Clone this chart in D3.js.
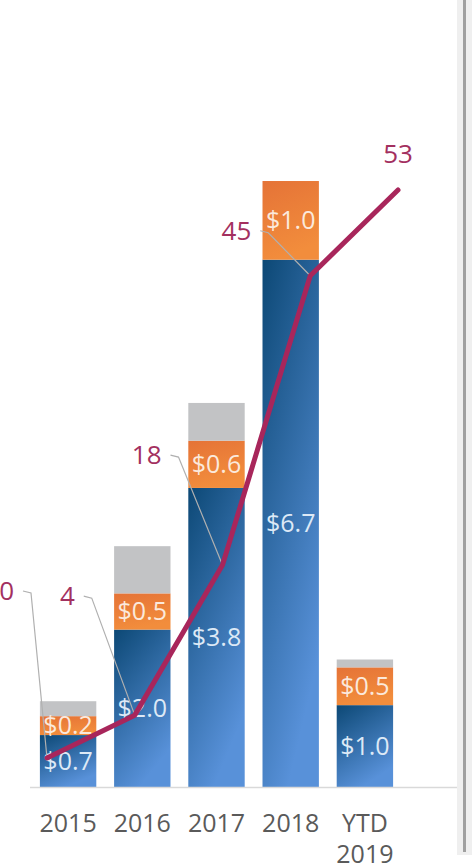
<!DOCTYPE html>
<html>
<head>
<meta charset="utf-8">
<script src="https://cdn.jsdelivr.net/npm/d3@7"></script>
<style>
  html, body { margin: 0; padding: 0; background: #fff; overflow: hidden; }
  text { font-family: "Open Sans", "Noto Sans", sans-serif; }
</style>
</head>
<body>
<div id="wrapper"></div>
<script>
// data
const categories = ["2015", "2016", "2017", "2018", "YTD 2019"];
const blueValues = [0.66, 2.0, 3.8, 6.7, 1.04];
const orangeValues = [0.24, 0.46, 0.6, 1.0, 0.48];
const greyValues = [0.19, 0.6, 0.48, 0, 0.1];
const lineValues = [0, 4, 18, 45, 53];

// where each line label sits relative to its point (layout only)
const labelOffsets = [
  { dx: -33, dy: -167, leader: true },
  { dx: -60, dy: -119, leader: true },
  { dx: -61, dy: -110, leader: true },
  { dx: -59, dy: -45, leader: true },
  { dx: 0, dy: -36, leader: false },
];

function drawChart() {
  const dimensions = { width: 472, height: 868, baseline: 787 };

  const svg = d3.select("#wrapper")
    .append("svg")
    .attr("width", dimensions.width)
    .attr("height", dimensions.height);

  const defs = svg.append("defs");
  const blueGrad = defs.append("linearGradient")
    .attr("id", "blue-grad")
    .attr("x1", 0).attr("y1", 0).attr("x2", 0.45).attr("y2", 1);
  blueGrad.append("stop").attr("offset", "0%").attr("stop-color", "#0c4875");
  blueGrad.append("stop").attr("offset", "100%").attr("stop-color", "#5891d9");

  const orangeGrad = defs.append("linearGradient")
    .attr("id", "orange-grad")
    .attr("x1", 0).attr("y1", 0).attr("x2", 0.3).attr("y2", 1);
  orangeGrad.append("stop").attr("offset", "0%").attr("stop-color", "#e57337");
  orangeGrad.append("stop").attr("offset", "100%").attr("stop-color", "#f28d3c");

  // scales
  const xScale = d3.scaleBand()
    .domain(categories)
    .range([31, 402])
    .paddingInner(0.24)
    .paddingOuter(0.12);

  const yScale = d3.scaleLinear()
    .domain([0, 10])
    .range([dimensions.baseline, 0]);

  const xLine = d3.scalePoint()
    .domain(categories)
    .range([47, 398]);

  const yLine = d3.scaleLinear()
    .domain([0, 53])
    .range([758, 190]);

  // stacked bars
  const rows = categories.map((c, i) => ({
    category: c,
    blue: blueValues[i],
    orange: orangeValues[i],
    grey: greyValues[i],
  }));
  const stack = d3.stack().keys(["blue", "orange", "grey"])(rows);
  const fills = { blue: "url(#blue-grad)", orange: "url(#orange-grad)", grey: "#c2c3c5" };

  const bars = svg.append("g");
  stack.forEach(layer => {
    bars.append("g")
      .selectAll("rect")
      .data(layer)
      .join("rect")
      .attr("x", d => xScale(d.data.category))
      .attr("width", xScale.bandwidth())
      .attr("y", d => yScale(d[1]))
      .attr("height", d => yScale(d[0]) - yScale(d[1]))
      .attr("fill", fills[layer.key]);
  });

  // bar value labels (blue + orange)
  const fmt = d => "$" + d3.format(".1f")(d);
  ["blue", "orange"].forEach(key => {
    const layer = stack.find(l => l.key === key);
    bars.append("g")
      .selectAll("text")
      .data(layer)
      .join("text")
      .attr("x", d => xScale(d.data.category) + xScale.bandwidth() / 2)
      .attr("y", d => (yScale(d[0]) + yScale(d[1])) / 2)
      .attr("dy", "0.35em")
      .attr("text-anchor", "middle")
      .attr("fill", key === "blue" ? "#dde9f6" : "#fbe9dc")
      .style("font-size", "25px")
      .text(d => fmt(d.data[key]));
  });

  // axis
  const xAxis = svg.append("g");
  xAxis.append("line")
    .attr("x1", 30).attr("x2", 458)
    .attr("y1", dimensions.baseline + 0.5).attr("y2", dimensions.baseline + 0.5)
    .attr("stroke", "#d9d9d9")
    .attr("stroke-width", 1.5);

  xAxis.selectAll("text")
    .data(categories)
    .join("text")
    .attr("x", d => xScale(d) + xScale.bandwidth() / 2)
    .attr("y", 832)
    .attr("text-anchor", "middle")
    .attr("fill", "#5a5a5a")
    .style("font-size", "25px")
    .each(function (d) {
      const parts = d.split(" ");
      d3.select(this).selectAll("tspan")
        .data(parts)
        .join("tspan")
        .attr("x", xScale(d) + xScale.bandwidth() / 2)
        .attr("dy", (p, i) => i === 0 ? 0 : 31)
        .text(p => p);
    });

  // leader lines
  const pts = lineValues.map((v, i) => [xLine(categories[i]), yLine(v)]);
  const leaders = svg.append("g");
  pts.forEach((p, i) => {
    const o = labelOffsets[i];
    if (!o.leader) return;
    const lx = p[0] + o.dx + 9;
    const ly = p[1] + o.dy;
    leaders.append("path")
      .attr("d", `M${lx},${ly} L${lx + 8},${ly + 2} L${p[0]},${p[1]}`)
      .attr("fill", "none")
      .attr("stroke", "#b0b0b0")
      .attr("stroke-width", 1.2);
  });

  // line
  const lineGen = d3.line()
    .x((d, i) => xLine(categories[i]))
    .y(d => yLine(d));

  svg.append("path")
    .attr("d", lineGen(lineValues))
    .attr("fill", "none")
    .attr("stroke", "#a8265b")
    .attr("stroke-width", 5)
    .attr("stroke-linecap", "round")
    .attr("stroke-linejoin", "round");

  // line labels
  svg.append("g")
    .selectAll("text")
    .data(lineValues)
    .join("text")
    .attr("x", (d, i) => pts[i][0] + labelOffsets[i].dx)
    .attr("y", (d, i) => pts[i][1] + labelOffsets[i].dy)
    .attr("dy", "0.35em")
    .attr("text-anchor", (d, i) => labelOffsets[i].leader ? "end" : "middle")
    .attr("fill", "#a3305f")
    .style("font-size", "26px")
    .text(d => d);

  // window edge on the right
  svg.append("rect")
    .attr("x", 457).attr("y", 0).attr("width", 15).attr("height", 855)
    .attr("fill", "#efefef");
  svg.append("rect")
    .attr("x", 463).attr("y", 0).attr("width", 3).attr("height", 852)
    .attr("fill", "#a0a0a0");
}

drawChart();
</script>
</body>
</html>
